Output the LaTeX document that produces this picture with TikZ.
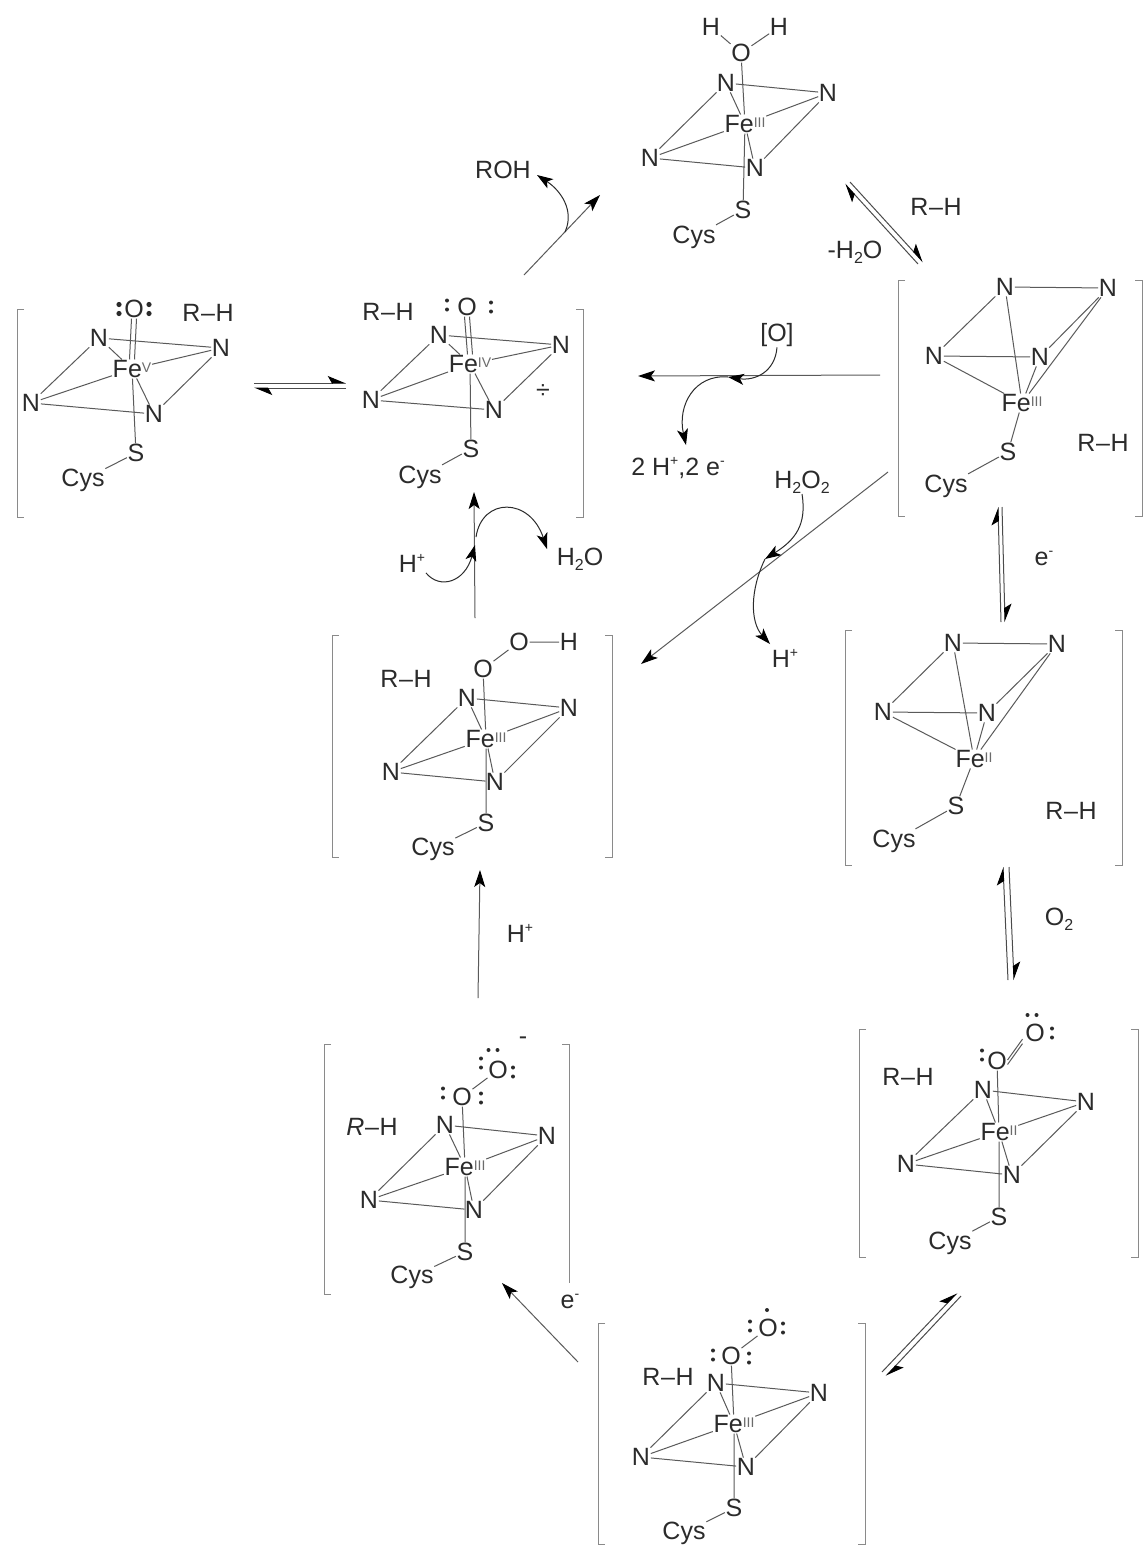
\documentclass[tikz,border=0pt]{standalone}
\usepackage{fontspec}
\setmainfont{Liberation Sans}
\usetikzlibrary{arrows.meta}
\definecolor{ink}{HTML}{2B2B2B}
\definecolor{bondc}{HTML}{5A5A5A}
\definecolor{brk}{HTML}{8A8A8A}
\newcommand{\upx}[1]{\raisebox{10pt}{\fontsize{14}{14}\selectfont #1}}
\newcommand{\dnx}[1]{\raisebox{-5pt}{\fontsize{16}{16}\selectfont #1}}
\newcommand{\rom}[1]{\raisebox{5pt}{\fontsize{14}{14}\selectfont\color{ink!70} #1}}
\newcommand{\rh}{R\hspace{0.6pt}–\hspace{0.6pt}H}
\tikzset{
  atom/.style={text=ink,inner sep=0.8pt,outer sep=0pt,font=\fontsize{25}{27}\selectfont},
  bond/.style={draw=bondc,line width=1pt},
  brack/.style={draw=brk,line width=1pt},
  rxn/.style={draw=bondc,line width=1pt,-{Stealth[length=17pt,width=11pt,inset=4pt,color=black]}},
  curvy/.style={draw=ink,line width=1pt,-{Stealth[length=16pt,width=11pt,inset=4pt,color=black]}},
  eqa/.style={draw=ink!85,line width=1pt,-{Stealth[harpoon,length=17pt,width=14pt,inset=4pt,color=black]}},
}
% prefix, tl, r, l, b, Fe, Fe label, S
\newcommand{\mol}[8]{%
  \node[atom] (#1tl) at (#2) {N};
  \node[atom] (#1r) at (#3) {N};
  \node[atom] (#1l) at (#4) {N};
  \node[atom] (#1b) at (#5) {N};
  \node[atom] (#1fe) at (#6) {Fe\rom{#7}};
  \node[atom] (#1s) at (#8) {S};
  \draw[bond] (#1tl)--(#1l) (#1l)--(#1fe) (#1l)--(#1b) (#1b)--(#1r) (#1r)--(#1fe) (#1tl)--(#1r) (#1tl)--(#1fe) (#1fe)--(#1b) (#1fe)--(#1s);
}
\newcommand{\bl}[4]{\draw[brack] (#1+7,#3)--(#1,#3)--(#1,#4)--(#1+7,#4);}
\newcommand{\br}[4]{\draw[brack] (#1-7,#3)--(#1,#3)--(#1,#4)--(#1-7,#4);}
\newcommand{\dotsv}[3][2]{\fill[ink] (#2,#3-4.5) circle (#1pt) (#2,#3+4.5) circle (#1pt);}
\newcommand{\dotsh}[3][2]{\fill[ink] (#2-4.5,#3) circle (#1pt) (#2+4.5,#3) circle (#1pt);}
\begin{document}
\begin{tikzpicture}[x=1pt,y=-1pt]
\useasboundingbox (0,0) rectangle (1143,1548);
\fill[white] (0,0) rectangle (1143,1548);

% --- A : Fe(V)=O
\mol{a}{99,338}{221,348}{31,403}{154,414}{132,369}{V}{136,453}
\node[atom] (aO) at (134,309) {O};
\node[atom] (acys) at (83,480) {Cys};
\node[atom] (arh) at (208,313) {\rh};
\draw[bond] (as)--(acys);
\draw[bond] ([xshift=-2.5pt]aO.south)--([xshift=-2.5pt]afe.north);
\draw[bond] ([xshift=2.5pt]aO.south)--([xshift=2.5pt]afe.north);
\dotsv[2.6]{119}{309}\dotsv[2.6]{149}{309}

% --- B : Fe(IV)=O radical cation
\mol{b}{439,335}{561,345}{371,400}{494,410}{470,364}{IV}{471,449}
\node[atom] (bO) at (467,307) {O};
\node[atom] (bcys) at (420,477) {Cys};
\node[atom] (brh) at (388,312) {\rh};
\node[atom] (brad) at (543,392) {÷};
\draw[bond] (bs)--(bcys);
\draw[bond] ([xshift=-2.5pt]bO.south)--([xshift=-2.5pt]bfe.north);
\draw[bond] ([xshift=2.5pt]bO.south)--([xshift=2.5pt]bfe.north);
\dotsv{447}{305}\dotsv{491}{307}
\bl{17}{0}{309}{517}
\br{583}{0}{309}{517}

% --- C : aqua Fe(III)
\mol{c}{726,83}{828,93}{650,158}{755,168}{745,124}{III}{743,210}
\node[atom] (cO) at (741,53) {O};
\node[atom] (cH1) at (711,27) {H};
\node[atom] (cH2) at (779,27) {H};
\node[atom] (ccys) at (694,237) {Cys};
\draw[bond] (cO)--(cH1) (cO)--(cH2) (cO)--(cfe) (cs)--(ccys);

% --- D : Fe(III) high spin
\node[atom] (dt) at (1005,287) {N};
\node[atom] (dtr) at (1108,288) {N};
\node[atom] (dl) at (934,356) {N};
\node[atom] (dm) at (1040,357) {N};
\node[atom] (dfe) at (1022,403) {Fe\rom{III}};
\node[atom] (ds) at (1008,452) {S};
\node[atom] (dcys) at (946,486) {Cys};
\node[atom] (drh) at (1103,443) {\rh};
\draw[bond] (dt)--(dtr) (dt)--(dl) (dl)--(dm) (dl)--(dfe) (dt)--(dfe) (dm)--(dfe) (dtr)--(dm) (dtr)--(dfe) (dfe)--(ds) (ds)--(dcys);
\bl{898}{0}{280}{516}
\br{1142}{0}{280}{516}

% --- E : hydroperoxo Fe(III)
\mol{e}{467,698}{569,708}{391,772}{495,782}{486,739}{III}{486,823}
\node[atom] (eO1) at (483,669) {O};
\node[atom] (eO2) at (519,642) {O};
\node[atom] (eH) at (569,642) {H};
\node[atom] (ecys) at (433,849) {Cys};
\node[atom] (erh) at (406,679) {\rh};
\draw[bond] (eO1)--(eO2) (eO2)--(eH) (eO1)--(efe) (es)--(ecys);
\bl{332}{0}{635}{857}
\br{612}{0}{635}{857}

% --- F : Fe(II) high spin
\node[atom] (ft) at (953,643) {N};
\node[atom] (ftr) at (1057,644) {N};
\node[atom] (fl) at (883,712) {N};
\node[atom] (fm) at (987,713) {N};
\node[atom] (ffe) at (974,759) {Fe\rom{II}};
\node[atom] (fs) at (956,806) {S};
\node[atom] (fcys) at (894,841) {Cys};
\node[atom] (frh) at (1071,811) {\rh};
\draw[bond] (ft)--(ftr) (ft)--(fl) (fl)--(fm) (fl)--(ffe) (ft)--(ffe) (fm)--(ffe) (ftr)--(fm) (ftr)--(ffe) (ffe)--(fs) (fs)--(fcys);
\bl{845}{0}{630}{865}
\br{1122}{0}{630}{865}

% --- G : Fe(II)-O2
\mol{g}{983,1090}{1086,1102}{906,1164}{1012,1175}{999,1132}{II}{999,1217}
\node[atom] (gO1) at (997,1061) {O};
\node[atom] (gO2) at (1035,1033) {O};
\node[atom] (gcys) at (950,1243) {Cys};
\node[atom] (grh) at (908,1077) {\rh};
\draw[bond] ([yshift=-3.5pt]gO1.east)--([yshift=-1pt,xshift=-2pt]gO2.south west);
\draw[bond] ([yshift=1pt]gO1.east)--([yshift=3.5pt,xshift=-2pt]gO2.south west);
\draw[bond] (gO1)--(gfe) (gs)--(gcys);
\dotsh{1032}{1015}\dotsv{1052}{1033}\dotsv{982}{1055}
\bl{859}{0}{1029}{1257}
\br{1138}{0}{1029}{1257}

% --- H : Fe(III)-superoxide
\mol{h}{716,1383}{819,1393}{641,1457}{746,1467}{734,1424}{III}{734,1508}
\node[atom] (hO1) at (731,1356) {O};
\node[atom] (hO2) at (768,1328) {O};
\node[atom] (hcys) at (684,1533) {Cys};
\node[atom] (hrh) at (668,1377) {\rh};
\draw[bond] (hO1)--(hO2) (hO1)--(hfe) (hs)--(hcys);
\fill[ink] (767,1310) circle (2pt);
\dotsv{750}{1326}\dotsv{783}{1328}\dotsv{713}{1355}\dotsv{749}{1358}
\bl{598}{0}{1323}{1544}
\br{865}{0}{1323}{1544}

% --- I : Fe(III)-peroxide
\mol{i}{445,1125}{547,1136}{369,1200}{474,1210}{465,1167}{III}{465,1252}
\node[atom] (iO1) at (462,1097) {O};
\node[atom] (iO2) at (498,1070) {O};
\node[atom] (icys) at (412,1277) {Cys};
\node[atom] (irh) at (372,1127) {\textit{R}\hspace{0.6pt}–\hspace{0.6pt}H};
\node[atom] (iminus) at (523,1041) {-};
\draw[bond] (iO1)--(iO2) (iO1)--(ife) (is)--(icys);
\dotsh{493}{1050}\dotsv{481}{1063}\dotsv{513}{1072}\dotsv{443}{1093}\dotsv{481}{1098}
\bl{324}{0}{1044}{1294}
\draw[brack] (562,1044)--(569,1044)--(569,1283);

% --- labels
\node[atom] (lroh) at (503,170) {ROH};
\node[atom] (lrh) at (936,207) {\rh};
\node[atom] (lwat) at (855,252) {-H\dnx{2}O};
\node[atom] (lox) at (777,335) {[O]};
\node[atom] (lprod) at (678,468) {2 H\upx{+},2 e\upx{-}};
\node[atom] (lperox) at (802,482) {H\dnx{2}O\dnx{2}};
\node[atom] (lhp1) at (412,563) {H\upx{+}};
\node[atom] (lw2) at (580,559) {H\dnx{2}O};
\node[atom] (lhp2) at (785,658) {H\upx{+}};
\node[atom] (lhp3) at (520,933) {H\upx{+}};
\node[atom] (le1) at (1044,558) {e\upx{-}};
\node[atom] (lo2) at (1059,919) {O\dnx{2}};
\node[atom] (le2) at (570,1301) {e\upx{-}};

% --- free ends of arrows
\coordinate (r1a) at (524,275); \coordinate (r1b) at (600,195);
\coordinate (r1c) at (565,232); \coordinate (r1d) at (537,175);
\coordinate (r2a) at (880,375); \coordinate (r2b) at (638,376);
\coordinate (r2c) at (728,377); \coordinate (r2d) at (686,445);
\coordinate (r3a) at (888,472); \coordinate (r3b) at (641,664);
\coordinate (r3c) at (765,559); \coordinate (r3d) at (770,644);
\coordinate (r4a) at (475,618); \coordinate (r4b) at (474,492);
\coordinate (r4c) at (475,545); \coordinate (r4d) at (476,537); \coordinate (r4e) at (547,549);
\coordinate (r5a) at (478,998); \coordinate (r5b) at (480,870);
\coordinate (r6a) at (578,1362); \coordinate (r6b) at (502,1283);

% --- reaction arrows
\draw[rxn] (r1a)--(r1b);
\draw[curvy] (r1c) .. controls (575,210) and (560,190) .. (r1d);
\draw[rxn] (r2a)--(r2b);
\draw[curvy] (lox.south) .. controls (775,372) and (755,381) .. (r2c);
\draw[curvy] (r2c) .. controls (695,374) and (677,405) .. (r2d);
\draw[rxn] (r3a)--(r3b);
\draw[curvy] (lperox.south) .. controls (807,525) and (795,540) .. (r3c);
\draw[curvy] (r3c) .. controls (750,590) and (750,622) .. (r3d);
\draw[rxn] (r4a)--(r4b);
\draw[curvy] (lhp1.south east) .. controls (440,590) and (465,582) .. (r4c);
\draw[curvy] (r4d) .. controls (482,497) and (530,497) .. (r4e);
\draw[rxn] (r5a)--(r5b);
\draw[rxn] (r6a)--(r6b);

% --- equilibrium arrows
\coordinate (q1a) at (254,383); \coordinate (q1b) at (346,383);
\coordinate (q1c) at (346,388); \coordinate (q1d) at (254,388);
\draw[eqa] (q1a)--(q1b);
\draw[eqa] (q1c)--(q1d);
\coordinate (q2a) at (918,264); \coordinate (q2b) at (845,184);
\coordinate (q2c) at (850,182); \coordinate (q2d) at (923,262);
\draw[eqa] (q2a)--(q2b);
\draw[eqa] (q2c)--(q2d);
\coordinate (q3a) at (1001,622); \coordinate (q3b) at (998,507);
\coordinate (q3c) at (1002,507); \coordinate (q3d) at (1005,622);
\draw[eqa] (q3a)--(q3b);
\draw[eqa] (q3c)--(q3d);
\coordinate (q4a) at (1008,980); \coordinate (q4b) at (1003,867);
\coordinate (q4c) at (1009,867); \coordinate (q4d) at (1014,980);
\draw[eqa] (q4a)--(q4b);
\draw[eqa] (q4c)--(q4d);
\coordinate (q5a) at (882,1372); \coordinate (q5b) at (957,1293);
\coordinate (q5c) at (961,1296); \coordinate (q5d) at (886,1376);
\draw[eqa] (q5a)--(q5b);
\draw[eqa] (q5c)--(q5d);
\end{tikzpicture}
\end{document}
